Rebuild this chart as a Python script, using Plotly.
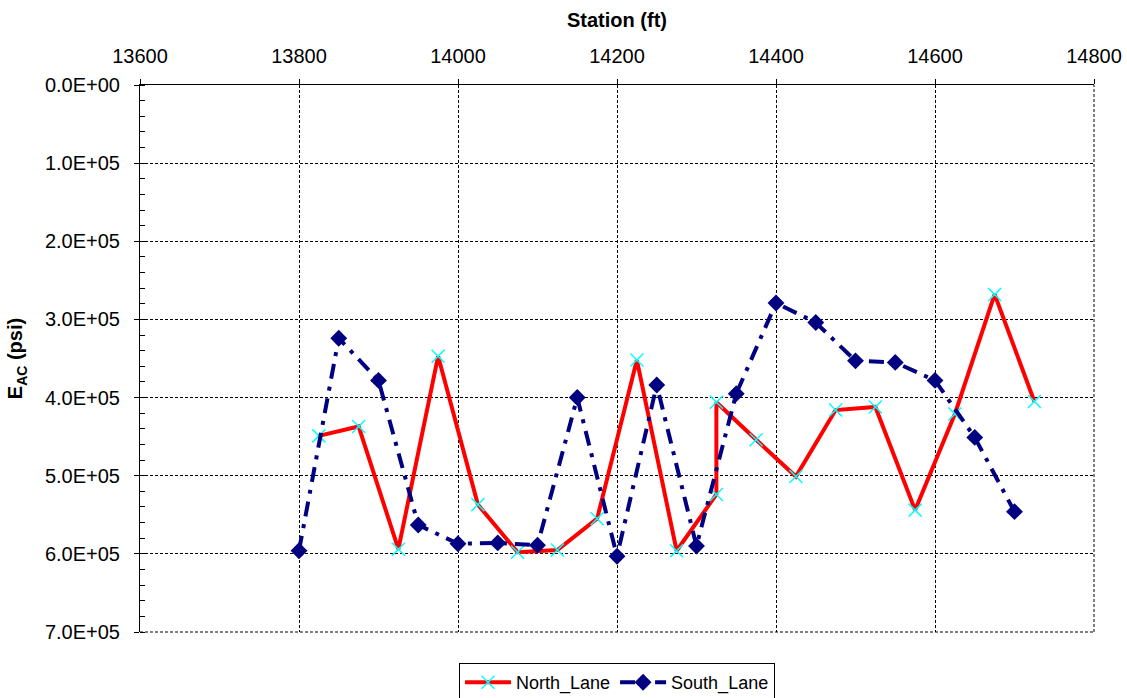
import plotly.graph_objects as go

north_station = [13825, 13875, 13925, 13975, 14025, 14075, 14125, 14175, 14225, 14275,
                 14325, 14325, 14375, 14425, 14475, 14525, 14575, 14625, 14675, 14725]
north_eac = [449000, 437000, 594000, 347000, 537000, 598000, 595000, 555000, 352000, 596000,
             524000, 406000, 454000, 501000, 416000, 412000, 544000, 421000, 268000, 405000]

south_station = [13800, 13850, 13900, 13950, 14000, 14050, 14100, 14150, 14200, 14250,
                 14300, 14350, 14400, 14450, 14500, 14550, 14600, 14650, 14700]
south_eac = [596000, 324000, 378000, 563000, 587000, 586000, 589000, 400000, 603000, 384000,
             590000, 395000, 279000, 304000, 353000, 355000, 378000, 451000, 546000]

x_tick_vals = [13600, 13800, 14000, 14200, 14400, 14600, 14800]
x_tick_labels = ["13600", "13800", "14000", "14200", "14400", "14600", "14800"]
y_tick_vals = [0, 100000, 200000, 300000, 400000, 500000, 600000, 700000]
y_tick_labels = ["0.0E+00", "1.0E+05", "2.0E+05", "3.0E+05", "4.0E+05", "5.0E+05", "6.0E+05", "7.0E+05"]

FONT = "Liberation Sans, Arial, sans-serif"
GRID_DASH = "3px,2px"

fig = go.Figure()
fig.add_trace(go.Scatter(
    x=north_station, y=north_eac, name="North_Lane", mode="lines+markers",
    line=dict(color="#FF0000", width=4),
    marker=dict(symbol="x-thin", size=13, line=dict(color="#00FFFF", width=1.5), color="#00FFFF"),
))
fig.add_trace(go.Scatter(
    x=south_station, y=south_eac, name="South_Lane", mode="lines+markers",
    line=dict(color="#000080", width=4, dash="15px,8px,4px,8px"),
    marker=dict(symbol="diamond", size=13, color="#000080"),
))

# dashed border on right and bottom (grid lines at the range ends)
fig.add_shape(type="line", xref="paper", yref="paper", x0=1, x1=1, y0=0, y1=1,
              line=dict(color="black", width=1, dash=GRID_DASH), layer="below")
fig.add_shape(type="line", xref="paper", yref="paper", x0=0, x1=1, y0=0, y1=0,
              line=dict(color="black", width=1, dash=GRID_DASH), layer="below")

fig.update_layout(
    width=1127, height=698,
    margin=dict(l=140, r=33, t=85, b=66),
    paper_bgcolor="white", plot_bgcolor="white",
    font=dict(family=FONT, size=20, color="black"),
    showlegend=True,
    legend=dict(orientation="h", x=0.5, xanchor="center",
                yref="container", y=0.05, yanchor="top",
                bordercolor="black", borderwidth=1, font=dict(size=18),
                itemwidth=46, tracegroupgap=0),
)
fig.update_xaxes(
    side="top", range=[13600, 14800], tickvals=x_tick_vals, ticktext=x_tick_labels,
    showline=True, linecolor="black", linewidth=1,
    ticks="outside", ticklen=5, tickcolor="black", ticklabelstandoff=8,
    showgrid=True, gridcolor="black", gridwidth=1, griddash=GRID_DASH,
    zeroline=False, automargin=False,
    title=dict(text="<b>Station (ft)</b>", font=dict(size=20), standoff=12),
    tickfont=dict(size=20),
)
fig.update_yaxes(
    range=[700000, 0], tickvals=y_tick_vals, ticktext=y_tick_labels,
    showline=True, linecolor="black", linewidth=1,
    ticks="outside", ticklen=5, tickcolor="black", ticklabelstandoff=10,
    minor=dict(dtick=20000, ticks="inside", ticklen=5, tickcolor="black", showgrid=False),
    showgrid=True, gridcolor="black", gridwidth=1, griddash=GRID_DASH,
    zeroline=False, automargin=False,
    title=dict(text="<b>E<sub>AC</sub> (psi)</b>", font=dict(size=20), standoff=16),
    tickfont=dict(size=20),
)

fig.write_html("out.html", config={"displayModeBar": False},
               post_script="document.body.style.margin='0';document.body.style.overflow='hidden';")
